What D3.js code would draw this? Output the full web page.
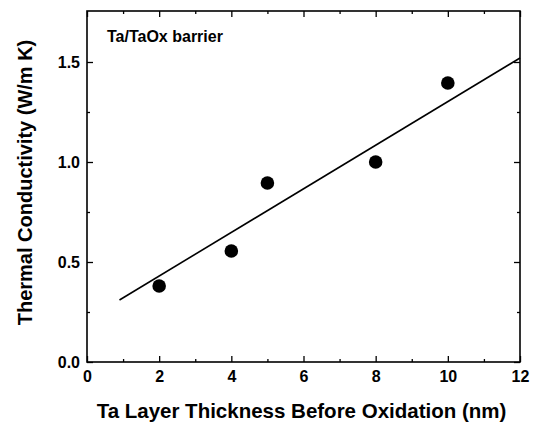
<!DOCTYPE html>
<html>
<head>
<meta charset="utf-8">
<script src="https://cdn.jsdelivr.net/npm/d3@7"></script>
<style>
  body { margin: 0; background: #fff; }
  svg text { font-family: "Liberation Sans", Arial, sans-serif; font-weight: bold; fill: #000; }
</style>
</head>
<body>
<svg id="chart"></svg>
<script>
// measured points
var thickness = [2, 4, 5, 8, 10];
var conductivity = [0.38, 0.555, 0.895, 1.0, 1.395];
// fitted line as drawn
var fitX = [0.9, 12];
var fitY = [0.31, 1.52];
var xTicks = [0, 2, 4, 6, 8, 10, 12];
var yTicks = [0, 0.5, 1.0, 1.5];
var xMinor = [1, 3, 5, 7, 9, 11];
var yMinor = [0.25, 0.75, 1.25];

var width = 537;
var height = 432;
var margin = {left: 87, top: 11, right: 17, bottom: 70};
var w = width - margin.left - margin.right;
var h = height - margin.top - margin.bottom;

var svg = d3.select("#chart")
  .attr("width", width)
  .attr("height", height);

var g = svg.append("g")
  .attr("transform", "translate(" + margin.left + "," + margin.top + ")");

var x = d3.scaleLinear().domain([0, 12]).range([0, w]);
var y = d3.scaleLinear().domain([0, 1.755]).range([h, 0]);

var styleAxis = function(sel)
{
  sel.select(".domain").remove();
  sel.selectAll("line").attr("stroke", "#000").attr("stroke-width", 1.3);
  sel.selectAll("text").attr("font-size", "16px");
}

// major ticks with labels
g.append("g")
  .attr("transform", "translate(0," + h + ")")
  .call(d3.axisBottom(x).tickValues(xTicks).tickSizeInner(-6).tickSizeOuter(0).tickPadding(9).tickFormat(d3.format("d")))
  .call(styleAxis);
g.append("g")
  .call(d3.axisLeft(y).tickValues(yTicks).tickSizeInner(-6).tickSizeOuter(0).tickPadding(7).tickFormat(d3.format(".1f")))
  .call(styleAxis);
// mirrored ticks
g.append("g")
  .call(d3.axisTop(x).tickValues(xTicks).tickSizeInner(-6).tickSizeOuter(0).tickFormat(""))
  .call(styleAxis);
g.append("g")
  .attr("transform", "translate(" + w + ",0)")
  .call(d3.axisRight(y).tickValues(yTicks).tickSizeInner(-6).tickSizeOuter(0).tickFormat(""))
  .call(styleAxis);
// minor ticks
g.append("g")
  .attr("transform", "translate(0," + h + ")")
  .call(d3.axisBottom(x).tickValues(xMinor).tickSizeInner(-3).tickSizeOuter(0).tickFormat(""))
  .call(styleAxis);
g.append("g")
  .call(d3.axisTop(x).tickValues(xMinor).tickSizeInner(-3).tickSizeOuter(0).tickFormat(""))
  .call(styleAxis);
g.append("g")
  .call(d3.axisLeft(y).tickValues(yMinor).tickSizeInner(-3).tickSizeOuter(0).tickFormat(""))
  .call(styleAxis);
g.append("g")
  .attr("transform", "translate(" + w + ",0)")
  .call(d3.axisRight(y).tickValues(yMinor).tickSizeInner(-3).tickSizeOuter(0).tickFormat(""))
  .call(styleAxis);

// frame
g.append("rect")
  .attr("x", 0)
  .attr("y", 0)
  .attr("width", w)
  .attr("height", h)
  .attr("fill", "none")
  .attr("stroke", "#000")
  .attr("stroke-width", 1.6);

// fit line
var line = d3.line()
  .x(function(d, i){ return x(fitX[i]); })
  .y(function(d){ return y(d); });
g.append("path")
  .datum(fitY)
  .attr("d", line)
  .attr("fill", "none")
  .attr("stroke", "#000")
  .attr("stroke-width", 1.6);

// points
g.selectAll("circle")
  .data(conductivity)
  .enter()
  .append("circle")
  .attr("cx", function(d, i){ return x(thickness[i]); })
  .attr("cy", function(d){ return y(d); })
  .attr("r", 6.8)
  .attr("fill", "#000");

// label inside plot
g.append("text")
  .attr("x", 20)
  .attr("y", 31)
  .attr("font-size", "16px")
  .text("Ta/TaOx barrier");

// axis titles
svg.append("text")
  .attr("x", margin.left + w / 2 - 2)
  .attr("y", 418)
  .attr("text-anchor", "middle")
  .attr("font-size", "20.5px")
  .text("Ta Layer Thickness Before Oxidation (nm)");

svg.append("text")
  .attr("transform", "translate(32," + (margin.top + h / 2 - 4) + ") rotate(-90)")
  .attr("text-anchor", "middle")
  .attr("font-size", "20px")
  .text("Thermal Conductivity (W/m K)");
</script>
</body>
</html>
